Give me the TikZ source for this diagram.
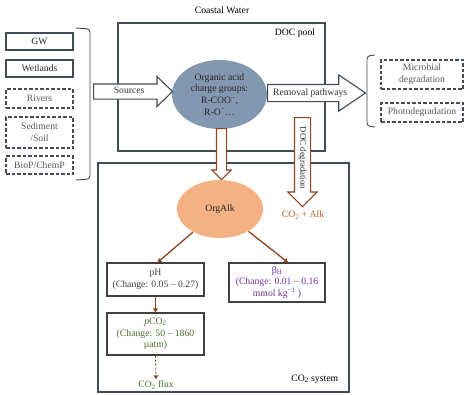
\documentclass[tikz,border=0pt]{standalone}
\usepackage{fontspec}
\setmainfont{Liberation Serif}
\usetikzlibrary{positioning,shapes.geometric,shapes.arrows,arrows.meta}

\definecolor{framegray}{RGB}{68,75,88}
\definecolor{poolblue}{RGB}{132,151,176}
\definecolor{alkorange}{RGB}{244,177,131}
\definecolor{flowbrown}{RGB}{140,68,28}
\definecolor{alktext}{RGB}{178,96,42}
\definecolor{betapurple}{RGB}{112,48,160}
\definecolor{pcogreen}{RGB}{72,108,46}

\begin{document}
\begin{tikzpicture}[x=1pt, y=-1pt, line width=1.1pt,
  font=\fontsize{9.7}{11.7}\selectfont,
  srcsolid/.style={draw=framegray, text=black!85, minimum width=67pt, inner sep=0pt, align=center},
  srcdash/.style={srcsolid, dash pattern=on 3.5pt off 2pt, text=black!65},
  sinkdash/.style={srcdash, minimum width=82pt},
  bracketline/.style={draw=framegray, line width=0.9pt, rounded corners=3pt},
  fatarrow/.style={single arrow, draw=framegray, fill=white, inner xsep=1pt,
    text height=6.5pt, text depth=2pt, text=black!80, anchor=tail},
  brownfat/.style={fatarrow, draw=flowbrown},
  valuebox/.style={draw=black!75, align=center, inner sep=0pt},
  thinflow/.style={draw=flowbrown, line width=1.3pt, -{Triangle[length=4pt,width=4.5pt]}}
]
\useasboundingbox (0,0) rectangle (465,394);

% Frames
\node (coastal) at (222,10) {Coastal Water};
\draw[framegray] (118,23) rectangle (325,151);
\node[anchor=east] (poollabel) at (319,33) {DOC pool};
\draw[framegray] (98,163) rectangle (349,392);
\node[anchor=east] (co2label) at (342,379) {CO\textsubscript{2} system};

% Source boxes
\foreach \name/\txt/\yc/\boxh/\kind in {
    gw/GW/41.5/17/srcsolid,
    wet/Wetlands/68.5/17/srcsolid,
    riv/Rivers/98.5/19/srcdash,
    sed/{Sediment\\/Soil}/132.5/31/srcdash,
    bio/{BioP/ChemP}/165/18/srcdash}
{
  \node[\kind, minimum height=\boxh pt] (\name) at (39.5,\yc) {\txt};
}
\draw[bracketline] (76,28) -- (90,29) -- (90,179) -- (76,180);

% Removal boxes
\node[sinkdash, minimum height=29pt] (micro) at (422,74.5) {Microbial\\degradation};
\node[sinkdash, minimum height=19pt] (photo) at (422,112.5) {Photodegradation};
\draw[bracketline] (375,55) -- (367,56) -- (367,126) -- (375,127);

% DOC pool
\node[ellipse, fill=poolblue, minimum width=95pt, minimum height=69pt, inner sep=0pt,
  align=center, text=black!85] (pool) at (219.5,94.5)
  {Organic acid\\charge groups:\\R-COO\textsuperscript{−},\\R-O\textsuperscript{−}…};

% Fat arrows
\node[fatarrow, inner ysep=2.75pt, minimum height=79pt, single arrow head extend=7.5pt,
  single arrow tip angle=88] (sources) at (93,91.5) {Sources};
\node[fatarrow, inner ysep=3.75pt, minimum height=98pt, single arrow head extend=9.5pt,
  single arrow tip angle=68] (removal) at (267,93) {Removal pathways};
\node[brownfat, rotate=-90, font=\fontsize{8.8}{10}\selectfont, inner xsep=0pt, inner ysep=3.25pt,
  minimum height=89pt, single arrow head extend=6.5pt,
  single arrow tip angle=90] (docdeg) at (302.5,117) {DOC degradation};
\node[brownfat, rotate=-90, text height=0pt, text depth=0pt, inner ysep=4.5pt, minimum height=51pt,
  single arrow head extend=4.5pt, single arrow tip angle=90] (toalk) at (221.5,128) {};
\node[text=alktext] (co2alk) at (303,215) {CO\textsubscript{2} + Alk};

% CO2 system
\node[ellipse, fill=alkorange, minimum width=86pt, minimum height=58pt, inner sep=0pt,
  text=black!85] (orgalk) at (220,209) {OrgAlk};
\node[valuebox, minimum width=97pt, minimum height=33pt, text=black!75] (ph) at (155.5,279.5)
  {pH\\(Change: 0.05 – 0.27)};
\node[valuebox, minimum width=96pt, minimum height=39pt, text=betapurple] (beta) at (277,282.5)
  {β\textsubscript{H}\\(Change: 0.01 – 0.16\\mmol kg\textsuperscript{−1} )};
\node[valuebox, minimum width=97pt, minimum height=42pt, text=pcogreen] (pco2) at (155.5,334)
  {\textit{p}CO\textsubscript{2}\\(Change: 50 – 1860\\µatm)};
\node[text=pcogreen, inner sep=1pt] (flux) at (156,385) {CO\textsubscript{2} flux};

% Links
\draw[thinflow] (orgalk) -- ([xshift=2pt]ph.north);
\draw[thinflow] (orgalk) -- ([xshift=11pt]beta.north);
\draw[thinflow] (ph.south) -- (pco2.north);
\draw[thinflow, line width=0.9pt, dash pattern=on 2pt off 2pt] (pco2.south) -- (flux.north);

\end{tikzpicture}
\end{document}
